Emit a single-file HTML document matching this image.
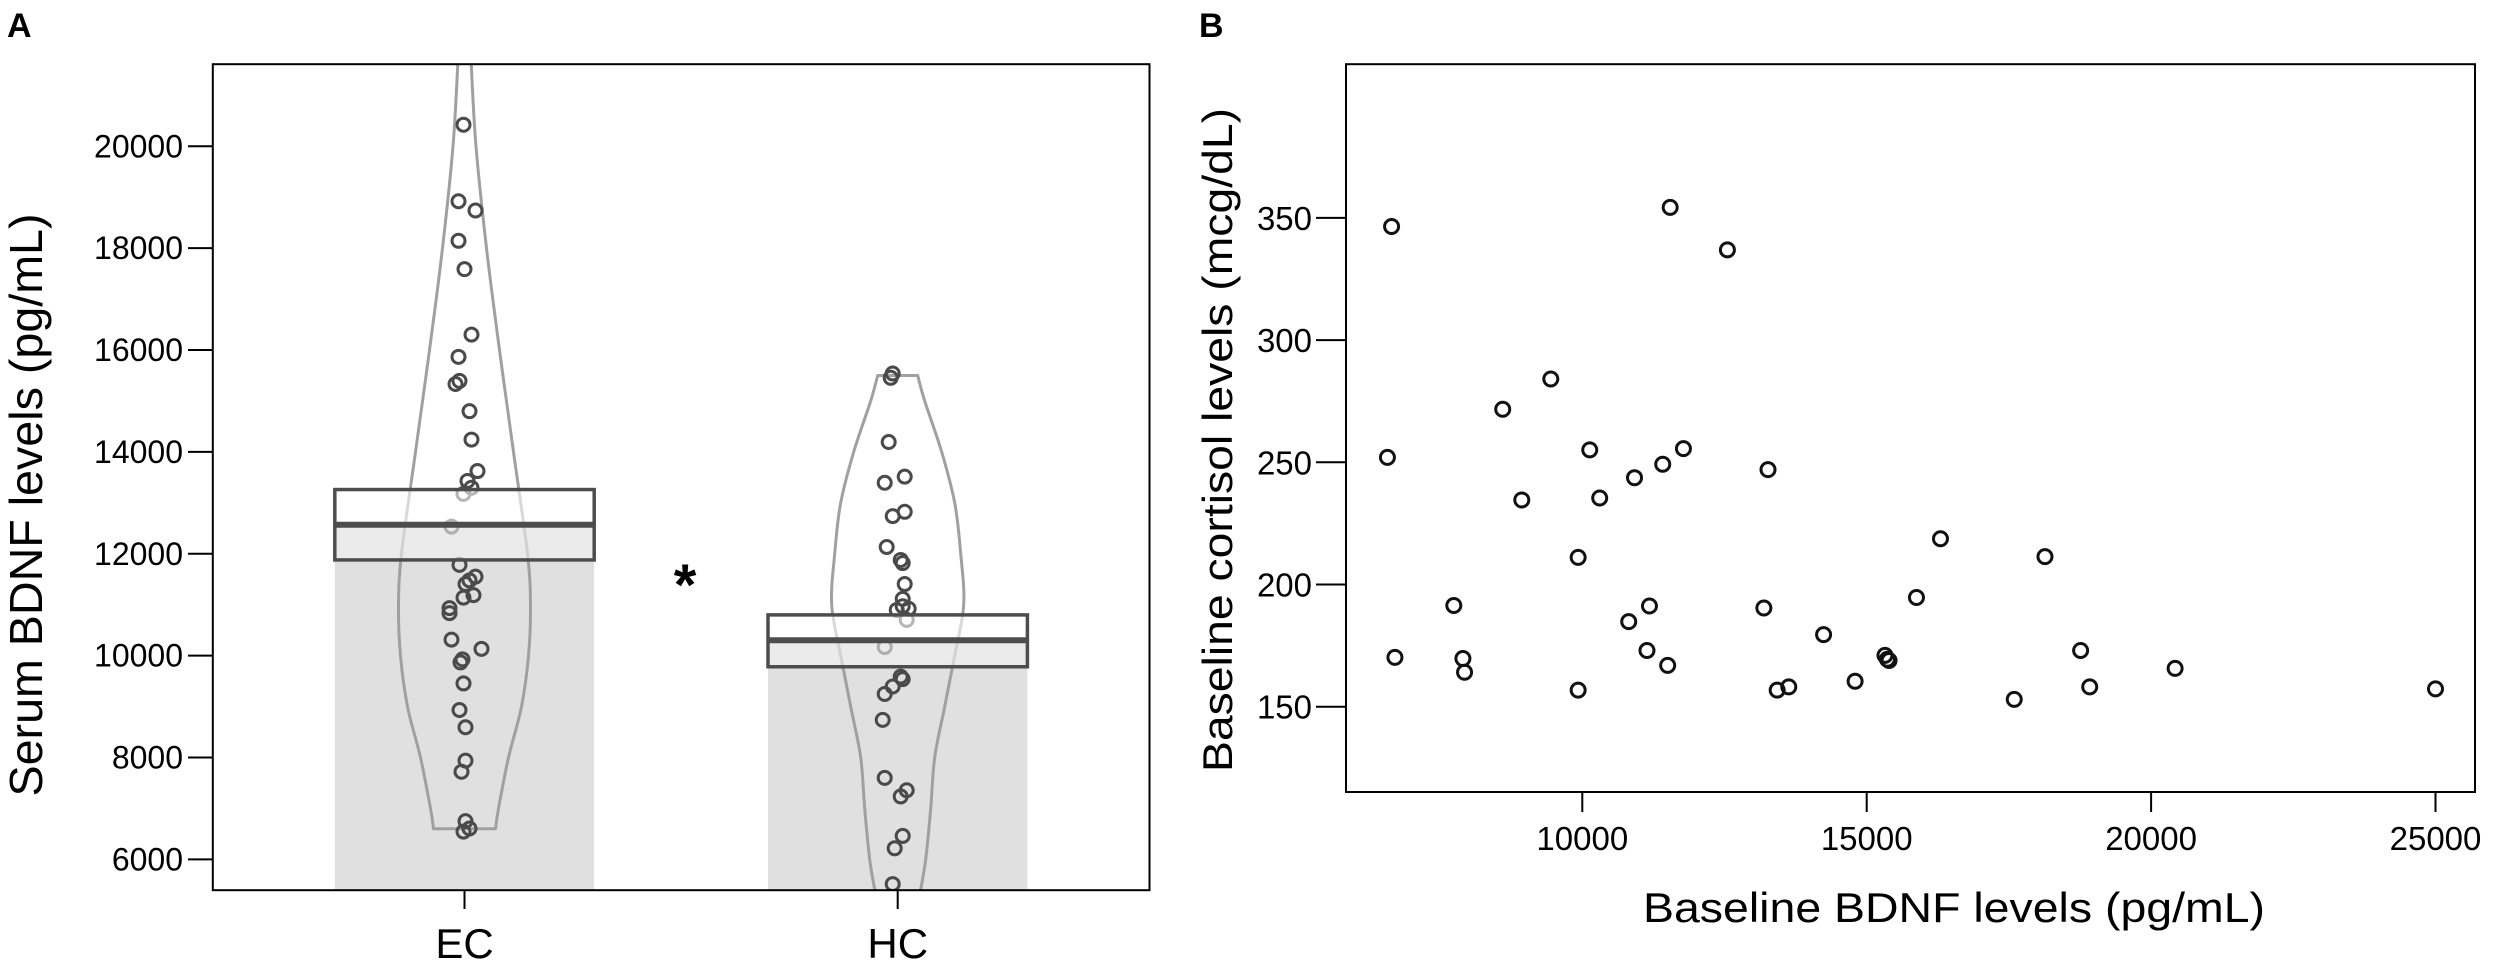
<!DOCTYPE html>
<html><head><meta charset="utf-8"><style>
html,body{margin:0;padding:0;background:#fff;}
svg{display:block;font-family:"Liberation Sans",Arial,sans-serif;}
</style></head><body>
<svg id="chart" width="2500" height="968" viewBox="0 0 2500 968" xmlns="http://www.w3.org/2000/svg">
<g id="panelA"></g>
<g id="panelB"></g>
</svg>
<script>
// ---------- Panel A data ----------
const groupCategories = ["EC", "HC"];
const groupMeans = [12570, 10303];
const groupCIHigh = [13261, 10800];
const groupCILow = [11879, 9782];
const yTicksA = [6000, 8000, 10000, 12000, 14000, 16000, 18000, 20000];
const ecValues = [20424,18921,18739,18145,17588,16303,15867,15394,15333,14800,14242,13624,13430,13297,13176,12533,11782,11551,11479,11406,11188,11139,10933,10836,10315,10133,9927,9867,9455,8933,8594,7939,7721,6751,6606,6545];
const ecJitter = [-1,-6,11,-6,0,7,-6,-5,-9,5,7,13,3,7,-1,-13,-5,11,5,1,9,-1,-15,-15,-13,17,-2,-4,-1,-5,1,1,-3,1,5,-1];
const hcValues = [15539,15455,14194,13394,13515,12739,12824,12133,11879,11818,11406,11115,10970,10897,10921,10703,10170,9588,9539,9394,9248,8739,7600,7358,7236,6461,6218,5515];
const hcJitter = [-5,-7,-9,-13,7,-5,7,-11,3,5,7,5,5,-1,11,9,-13,3,5,-5,-13,-15,-13,9,3,5,-3,-5];
const ecViolinLevels = [6600,7000,8000,9000,10000,11000,12000,14000,16000,18000,20000,21700];
const ecViolinHalfWidth = [31,34,44,57,64,66,63,49,35,22,11.5,6.5];
const hcViolinLevels = [5300,6000,7000,8000,9000,10000,11000,12000,13000,14000,15000,15500];
const hcViolinHalfWidth = [22,28,33,37,47,57,66,63,57,44,27,20];

// ---------- Panel B data ----------
const bdnfValues = [6647,6574,6706,7741,7901,7930,8601,8936,9446,9927,9927,10131,10306,10816,10918,11137,11181,11414,11501,11545,11778,12551,13192,13265,13426,13630,14242,14796,15321,15364,15393,15875,16297,17594,18134,18761,18921,20422,25000];
const cortisolValues = [346.5,252.0,170.2,191.4,169.7,164.1,271.7,234.6,284.1,211.1,156.8,255.1,235.4,184.8,243.7,173.0,191.2,249.2,166.9,354.3,255.6,336.9,190.4,247.0,156.8,158.1,179.5,160.4,171.0,169.4,168.9,194.7,218.7,153.0,211.4,173.0,158.1,165.7,157.3];
const xTicksB = [10000, 15000, 20000, 25000];
const yTicksB = [150, 200, 250, 300, 350];

const NS = "http://www.w3.org/2000/svg";
function mk(parent, tag, attrs, text){
  const e = document.createElementNS(NS, tag);
  for (const k in attrs) e.setAttribute(k, attrs[k]);
  if (text !== undefined) e.textContent = text;
  parent.appendChild(e);
  return e;
}
// smooth path through points (Catmull-Rom -> Bezier)
function smooth(pts){
  let d = 'M' + pts[0][0].toFixed(1) + ',' + pts[0][1].toFixed(1);
  for (let i = 0; i < pts.length - 1; i++){
    const p0 = pts[Math.max(0, i-1)], p1 = pts[i], p2 = pts[i+1], p3 = pts[Math.min(pts.length-1, i+2)];
    const c1 = [p1[0] + (p2[0]-p0[0])/6, p1[1] + (p2[1]-p0[1])/6];
    const c2 = [p2[0] - (p3[0]-p1[0])/6, p2[1] - (p3[1]-p1[1])/6];
    d += 'C' + c1[0].toFixed(1) + ',' + c1[1].toFixed(1) + ' ' + c2[0].toFixed(1) + ',' + c2[1].toFixed(1) + ' ' + p2[0].toFixed(1) + ',' + p2[1].toFixed(1);
  }
  return d;
}

// ---------- Panel A ----------
const A = document.getElementById('panelA');
const aL = 212.8, aR = 1149.5, aT = 64.2, aB = 890.2;
const yA = v => 146.3 + (20000 - v) / 2000 * 101.87;
const xA = i => [464.5, 897.7][i];
const barHalf = 129.7;

const clipA = mk(A, 'clipPath', {id: 'clipA'});
mk(clipA, 'rect', {x: aL, y: aT, width: aR - aL, height: aB - aT});
const plotA = mk(A, 'g', {'clip-path': 'url(#clipA)'});



const violinData = [[ecViolinLevels, ecViolinHalfWidth], [hcViolinLevels, hcViolinHalfWidth]];
const pointData = [[ecValues, ecJitter], [hcValues, hcJitter]];

groupCategories.forEach((cat, i) => {
  const cx = xA(i);
  const bar = mk(plotA, 'rect', {x: cx - barHalf, y: yA(groupMeans[i]), width: 2 * barHalf, height: aB - yA(groupMeans[i]), fill: '#e0e0e0'});
  
  
});
groupCategories.forEach((cat, i) => {
  const cx = xA(i);
  const [lv, hw] = violinData[i];
  const right = lv.map((v, k) => [cx + hw[k], yA(v)]);
  const left = lv.map((v, k) => [cx - hw[k], yA(v)]).reverse();
  let d = smooth(right);
  d += 'L' + left[0][0].toFixed(1) + ',' + left[0][1].toFixed(1);
  d += smooth(left).replace(/^M[^C]*/, '');
  d += 'Z';
  const vio = mk(plotA, 'path', {d: d, fill: 'none', stroke: '#a0a0a0', 'stroke-width': 3, 'stroke-linejoin': 'round'});
  
  
});
groupCategories.forEach((cat, i) => {
  const cx = xA(i);
  const [vals, jit] = pointData[i];
  vals.forEach((v, k) => {
    const c = mk(plotA, 'circle', {cx: cx + jit[k], cy: yA(v), r: 6.5, fill: 'none', stroke: '#4a4a4a', 'stroke-width': 3});
    
    
  });
});
groupCategories.forEach((cat, i) => {
  const cx = xA(i);
  const yh = yA(groupCIHigh[i]), ym = yA(groupMeans[i]), yl = yA(groupCILow[i]);
  mk(plotA, 'rect', {x: cx - barHalf, y: yh, width: 2 * barHalf, height: ym - yh, fill: '#ffffff', 'fill-opacity': 0.6});
  mk(plotA, 'rect', {x: cx - barHalf, y: ym, width: 2 * barHalf, height: yl - ym, fill: '#f2f2f2', 'fill-opacity': 0.6});
  const box = mk(plotA, 'rect', {x: cx - barHalf, y: yh, width: 2 * barHalf, height: yl - yh, fill: 'none', stroke: '#4d4d4d', 'stroke-width': 3.5});
  
  
  const ml = mk(plotA, 'line', {x1: cx - barHalf, x2: cx + barHalf, y1: ym, y2: ym, stroke: '#4d4d4d', 'stroke-width': 6});
  
  
});
const frameA = mk(A, 'rect', {x: aL, y: aT, width: aR - aL, height: aB - aT, fill: 'none', stroke: '#000', 'stroke-width': 2});



yTicksA.forEach(t => {
  const y = yA(t);
  mk(A, 'line', {x1: 188, x2: aL, y1: y, y2: y, stroke: '#000', 'stroke-width': 2});
  const lb = mk(A, 'text', {x: 183, y: y + 11, 'text-anchor': 'end', 'font-size': 32, fill: '#000'}, String(t));
  
  
});
groupCategories.forEach((cat, i) => {
  const cx = xA(i);
  mk(A, 'line', {x1: cx, x2: cx, y1: aB, y2: 909, stroke: '#000', 'stroke-width': 2});
  const lb = mk(A, 'text', {x: cx, y: 958, 'text-anchor': 'middle', 'font-size': 42, fill: '#000'}, cat);
  
  
});
const ytA = mk(A, 'text', {x: 0, y: 0, transform: 'translate(42,505) rotate(-90)', 'text-anchor': 'middle', 'font-size': 46, textLength: 583, lengthAdjust: 'spacingAndGlyphs', fill: '#000'}, 'Serum BDNF levels (pg/mL)');


const star = mk(A, 'text', {x: 685, y: 605, 'text-anchor': 'middle', 'font-size': 58, 'font-weight': 'bold', fill: '#000'}, '*');


const la = mk(A, 'text', {x: 7, y: 37, 'font-size': 34, 'font-weight': 'bold', fill: '#000'}, 'A');



// ---------- Panel B ----------
const B = document.getElementById('panelB');
const bL = 1346, bR = 2475, bT = 64.2, bB = 792;
const xB = v => 1582.3 + (v - 10000) / 5000 * 284.4;
const yB = v => 217.9 + (350 - v) / 50 * 122.2;

const frameB = mk(B, 'rect', {x: bL, y: bT, width: bR - bL, height: bB - bT, fill: 'none', stroke: '#000', 'stroke-width': 2});


bdnfValues.forEach((v, k) => {
  const c = mk(B, 'circle', {cx: xB(v), cy: yB(cortisolValues[k]), r: 7, fill: 'none', stroke: '#111', 'stroke-width': 3});
  
  
});
yTicksB.forEach(t => {
  const y = yB(t);
  mk(B, 'line', {x1: 1316, x2: bL, y1: y, y2: y, stroke: '#000', 'stroke-width': 2});
  const lb = mk(B, 'text', {x: 1312, y: y + 12, 'text-anchor': 'end', 'font-size': 33, fill: '#000'}, String(t));
  
  
});
xTicksB.forEach(t => {
  const x = xB(t);
  mk(B, 'line', {x1: x, x2: x, y1: bB, y2: 812, stroke: '#000', 'stroke-width': 2});
  const lb = mk(B, 'text', {x: x, y: 850, 'text-anchor': 'middle', 'font-size': 33, fill: '#000'}, String(t));
  
  
});
const xtB = mk(B, 'text', {x: 1954, y: 922, 'text-anchor': 'middle', 'font-size': 42, textLength: 622, lengthAdjust: 'spacingAndGlyphs', fill: '#000'}, 'Baseline BDNF levels (pg/mL)');


const ytB = mk(B, 'text', {x: 0, y: 0, transform: 'translate(1232,440) rotate(-90)', 'text-anchor': 'middle', 'font-size': 42, textLength: 664, lengthAdjust: 'spacingAndGlyphs', fill: '#000'}, 'Baseline cortisol levels (mcg/dL)');


const lbB = mk(B, 'text', {x: 1199, y: 37, 'font-size': 34, 'font-weight': 'bold', fill: '#000'}, 'B');


</script>
</body></html>
